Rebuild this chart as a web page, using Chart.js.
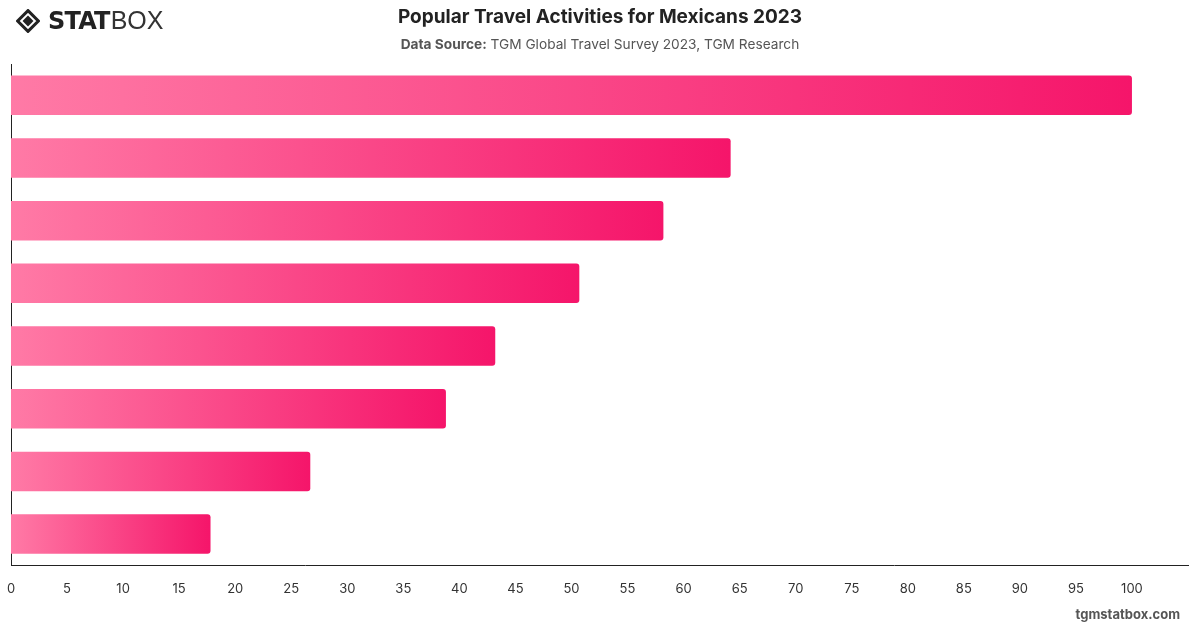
<!DOCTYPE html>
<html>
<head>
<meta charset="utf-8">
<script src="https://cdn.jsdelivr.net/npm/chart.js@4.4.1/dist/chart.umd.min.js"></script>
<style>
  html, body { margin: 0; padding: 0; background: #fff; }
  body { width: 1200px; height: 628px; position: relative; overflow: hidden; font-family: Inter, "Noto Sans", sans-serif; }
  #chart { position: absolute; left: 0; top: 0; }
  .logo { position: absolute; left: 16px; top: 6px; display: flex; align-items: center; color: #222; }
  .logo .mark { width: 24px; height: 24px; margin-right: 8px; }
  .logo .stat { font-family: "DejaVu Sans", sans-serif; font-weight: 900; font-size: 24px; letter-spacing: -0.8px; }
  .logo .box { font-family: "Liberation Sans", sans-serif; font-weight: 400; font-size: 25px; color: #333; margin-left: 1px; }
  .title { position: absolute; left: 0; width: 1200px; top: 5px; text-align: center; font-size: 19px; font-weight: 700; color: #222; }
  .sub { position: absolute; left: 0; width: 1200px; top: 36px; text-align: center; font-size: 13.7px; color: #555; }
  .sub b { font-weight: 700; }
  .wm { position: absolute; right: 20px; top: 606px; font-size: 13px; font-weight: 700; color: #555; }
</style>
</head>
<body>
<canvas id="chart" width="1200" height="628"></canvas>
<div class="logo">
  <svg class="mark" viewBox="0 0 22 22">
    <path d="M11 1.5 L20.5 11 L11 20.5 L1.5 11 Z" fill="none" stroke="#222" stroke-width="2.8"/>
    <path d="M11 6 L16 11 L11 16 L6 11 Z" fill="#222"/>
  </svg>
  <span class="stat">STAT</span><span class="box">BOX</span>
</div>
<div class="title">Popular Travel Activities for Mexicans 2023</div>
<div class="sub"><b>Data Source:</b> TGM Global Travel Survey 2023, TGM Research</div>
<div class="wm">tgmstatbox.com</div>
<script>
// Categories (labels are not shown on the chart)
const categories = ['1', '2', '3', '4', '5', '6', '7', '8'];
const values = [100, 64.2, 58.2, 50.7, 43.2, 38.8, 26.7, 17.8];
const tickLabels = [0, 5, 10, 15, 20, 25, 30, 35, 40, 45, 50, 55, 60, 65, 70, 75, 80, 85, 90, 95, 100];

function barGradient(context) {
  const chart = context.chart;
  const x = chart.scales.x;
  if (!chart.chartArea || !x) return '#f9457f';
  const v = values[context.dataIndex];
  const x0 = x.getPixelForValue(0);
  const x1 = x.getPixelForValue(v);
  const g = chart.ctx.createLinearGradient(x0, 0, x1, 0);
  g.addColorStop(0, '#ff7aa6');
  g.addColorStop(1, '#f5156a');
  return g;
}

const ctx = document.getElementById('chart').getContext('2d');
new Chart(ctx, {
  type: 'bar',
  data: {
    labels: categories,
    datasets: [{
      data: values,
      backgroundColor: barGradient,
      borderRadius: 3,
      borderSkipped: 'start',
      barPercentage: 0.63,
      categoryPercentage: 1
    }]
  },
  options: {
    indexAxis: 'y',
    responsive: false,
    animation: false,
    devicePixelRatio: 1,
    layout: { padding: { top: 64, left: 11, right: 12, bottom: 15 } },
    plugins: { legend: { display: false }, tooltip: { enabled: false } },
    scales: {
      x: {
        min: 0,
        max: 105,
        afterBuildTicks: axis => { axis.ticks = tickLabels.map(v => ({ value: v })); },
        afterFit: axis => { axis.paddingLeft = 0; axis.paddingRight = 0; },
        grid: { display: false, drawTicks: false },
        border: { display: true, color: '#222', width: 1 },
        ticks: { color: '#333', font: { family: 'Inter', size: 13 }, padding: 16, autoSkip: false, maxRotation: 0 }
      },
      y: {
        afterFit: axis => { axis.width = 0; },
        grid: { display: false, drawTicks: false },
        border: { display: true, color: '#222', width: 1 },
        ticks: { display: false }
      }
    }
  }
});
</script>
</body>
</html>
